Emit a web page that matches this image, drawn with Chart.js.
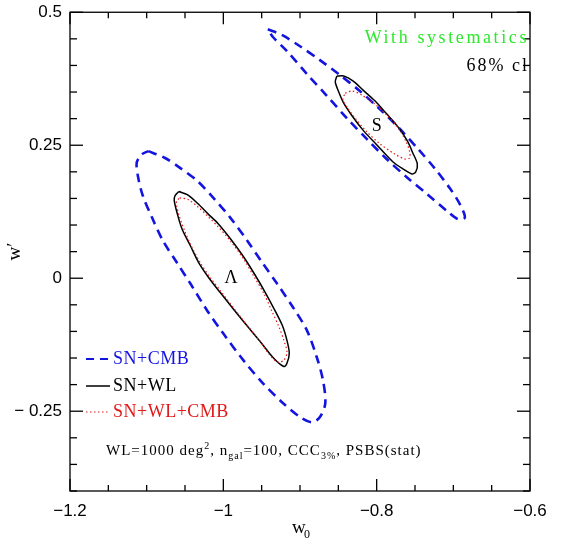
<!DOCTYPE html>
<html><head><meta charset="utf-8">
<script src="https://cdn.jsdelivr.net/npm/chart.js@4"></script>
<style>html,body{margin:0;padding:0;background:#fff}</style>
</head><body>
<canvas id="c" width="576" height="542"></canvas>
<script>
// ---- data (w0, w') ----
const xTickValues=[-1.2,-1,-0.8,-0.6];
const xTickLabels=['\u22121.2','\u22121','\u22120.8','\u22120.6'];
const yTickValues=[-0.25,0,0.25,0.5];
const yTickLabels=['\u2212 0.25','0','0.25','0.5'];
const seriesNames=['SN+CMB','SN+WL','SN+WL+CMB'];
const modelLabels=['\u039B','S'];
const modelCentres=[[-0.99,0.0],[-0.8,0.285]];

const lambdaSnCmb=[[-1.098,0.239],[-1.076,0.226],[-1.057,0.208],[-1.034,0.183],[-1.013,0.151],[-0.991,0.114],[-0.969,0.071],[-0.950,0.031],[-0.930,-0.010],[-0.909,-0.055],[-0.891,-0.098],[-0.878,-0.149],[-0.870,-0.192],[-0.867,-0.235],[-0.874,-0.261],[-0.884,-0.271],[-0.900,-0.261],[-0.922,-0.235],[-0.948,-0.198],[-0.974,-0.154],[-1.000,-0.104],[-1.021,-0.061],[-1.043,-0.010],[-1.060,0.028],[-1.079,0.071],[-1.093,0.114],[-1.105,0.155],[-1.111,0.189],[-1.113,0.217],[-1.107,0.232]];
const lambdaSnWl=[[-1.058,0.163],[-1.047,0.157],[-1.033,0.140],[-1.020,0.121],[-1.007,0.103],[-0.989,0.071],[-0.973,0.039],[-0.959,0.007],[-0.946,-0.025],[-0.934,-0.057],[-0.923,-0.089],[-0.917,-0.117],[-0.914,-0.141],[-0.917,-0.160],[-0.921,-0.166],[-0.934,-0.151],[-0.952,-0.119],[-0.978,-0.074],[-1.004,-0.027],[-1.019,0.001],[-1.032,0.029],[-1.043,0.061],[-1.054,0.093],[-1.060,0.121],[-1.064,0.146],[-1.063,0.155]];
const lambdaSnWlCmb=[[-1.057,0.151],[-1.046,0.148],[-1.033,0.134],[-1.020,0.116],[-1.007,0.097],[-0.989,0.067],[-0.973,0.035],[-0.960,0.003],[-0.947,-0.029],[-0.937,-0.061],[-0.927,-0.093],[-0.921,-0.117],[-0.917,-0.139],[-0.921,-0.154],[-0.929,-0.158],[-0.939,-0.145],[-0.953,-0.117],[-0.978,-0.072],[-1.003,-0.025],[-1.017,0.001],[-1.030,0.029],[-1.042,0.061],[-1.051,0.091],[-1.058,0.119],[-1.061,0.138],[-1.061,0.145]];
const sugraSnCmb=[[-0.942,0.468],[-0.923,0.457],[-0.900,0.436],[-0.874,0.410],[-0.848,0.382],[-0.822,0.352],[-0.796,0.318],[-0.770,0.281],[-0.746,0.243],[-0.724,0.206],[-0.704,0.168],[-0.691,0.138],[-0.685,0.114],[-0.694,0.111],[-0.708,0.126],[-0.734,0.158],[-0.760,0.189],[-0.787,0.224],[-0.813,0.262],[-0.839,0.301],[-0.865,0.343],[-0.891,0.384],[-0.917,0.427],[-0.935,0.453]];
const sugraSnWl=[[-0.852,0.380],[-0.843,0.380],[-0.831,0.371],[-0.818,0.354],[-0.802,0.333],[-0.787,0.309],[-0.772,0.284],[-0.760,0.258],[-0.753,0.236],[-0.747,0.215],[-0.749,0.200],[-0.754,0.196],[-0.764,0.204],[-0.779,0.219],[-0.800,0.251],[-0.817,0.277],[-0.831,0.303],[-0.843,0.329],[-0.850,0.352],[-0.854,0.369]];
const sugraSnWlCmb=[[-0.841,0.348],[-0.832,0.352],[-0.819,0.344],[-0.803,0.328],[-0.787,0.307],[-0.772,0.283],[-0.762,0.258],[-0.757,0.238],[-0.757,0.226],[-0.763,0.224],[-0.777,0.234],[-0.796,0.253],[-0.814,0.277],[-0.828,0.301],[-0.839,0.322],[-0.844,0.337]];

// ---- styles ----
const BLUE='#1414e0', RED='#e01818', GREEN='#2ee82e';
const styles=[
  {borderColor:BLUE,borderWidth:2.6,borderDash:[9,6],order:3},
  {borderColor:'#000',borderWidth:1.5,borderDash:[],order:2},
  {borderColor:RED,borderWidth:1.2,borderDash:[1.5,2.5],order:1}
];
function closed(arr){return arr.concat([arr[0]]).map(p=>({x:p[0],y:p[1]}));}
function ds(arr,si){return Object.assign({label:seriesNames[si],data:closed(arr),showLine:true,pointRadius:0,tension:0.3,fill:false},styles[si]);}

const datasets=[ds(lambdaSnCmb,0),ds(sugraSnCmb,0),ds(lambdaSnWl,1),ds(sugraSnWl,1),ds(lambdaSnWlCmb,2),ds(sugraSnWlCmb,2)];

const SERIF='"Liberation Serif","Times New Roman",serif';
const SANS='"Liberation Sans",Arial,sans-serif';

const decor={id:'decor',afterDraw(chart){
  const {ctx,chartArea:a,scales:{x,y}}=chart;
  ctx.save();
  ctx.strokeStyle='#000';ctx.lineWidth=1.3;ctx.setLineDash([]);
  ctx.strokeRect(a.left,a.top,a.right-a.left,a.bottom-a.top);
  function ln(x1,y1,x2,y2){ctx.beginPath();ctx.moveTo(x1,y1);ctx.lineTo(x2,y2);ctx.stroke();}
  for(let i=0;i<=12;i++){const v=x.min+i*0.05;const px=x.getPixelForValue(v);const L=(i%4===0)?12:6;ln(px,a.bottom,px,a.bottom-L);ln(px,a.top,px,a.top+L);}
  for(let i=0;i<=18;i++){const v=y.min+i*0.05;const r=v/0.25;const major=Math.abs(r-Math.round(r))<1e-6;const py=y.getPixelForValue(v);const L=major?13:7;ln(a.left,py,a.left+L,py);ln(a.right,py,a.right-L,py);}
  // model labels
  ctx.fillStyle='#000';ctx.font='18px '+SERIF;ctx.textAlign='center';ctx.textBaseline='middle';
  modelLabels.forEach((t,i)=>ctx.fillText(t,x.getPixelForValue(modelCentres[i][0]),y.getPixelForValue(modelCentres[i][1])));
  // axis titles
  ctx.font='19px '+SERIF;ctx.textAlign='left';ctx.textBaseline='alphabetic';
  const cx=(a.left+a.right)/2;
  ctx.fillText('w',cx-8,533);ctx.font='12px '+SERIF;ctx.fillText('0',cx+4,538);
  ctx.save();ctx.translate(20,(a.top+a.bottom)/2);ctx.rotate(-Math.PI/2);ctx.font='19px '+SERIF;ctx.textAlign='center';ctx.fillText('w\u2032',0,0);ctx.restore();
  // top-right notes
  ctx.textAlign='right';ctx.textBaseline='middle';
  ctx.letterSpacing='2.6px';ctx.font='18px '+SERIF;ctx.fillStyle=GREEN;ctx.fillText('With systematics',529,38);
  ctx.letterSpacing='2px';ctx.fillStyle='#000';ctx.fillText('68% cl',529,66);
  // legend
  const legY=[359,386,412];const cols=[BLUE,'#000',RED];
  ctx.letterSpacing='0.5px';
  for(let i=0;i<3;i++){
    ctx.strokeStyle=cols[i];ctx.lineWidth=styles[i].borderWidth*(i===0?0.8:1);ctx.setLineDash(i===0?[8,6]:styles[i].borderDash);
    ln(86,legY[i],110,legY[i]);
    ctx.setLineDash([]);ctx.fillStyle=cols[i];ctx.textAlign='left';ctx.font='18px '+SERIF;ctx.fillText(seriesNames[i],113,legY[i]);
  }
  // survey note
  ctx.fillStyle='#000';ctx.textAlign='left';ctx.textBaseline='alphabetic';ctx.letterSpacing='1px';
  let px=106;const base=455;
  const parts=[['WL=1000 deg',15,0],['2',10,-6],[', n',15,0],['gal',10,4],['=100, CCC',15,0],['3%',10,4],[', PSBS(stat)',15,0]];
  parts.forEach(p=>{ctx.font=p[1]+'px '+SERIF;ctx.fillText(p[0],px,base+p[2]);px+=ctx.measureText(p[0]).width;});
  ctx.restore();
}};

new Chart(document.getElementById('c'),{
  type:'scatter',
  data:{datasets},
  options:{
    responsive:false,animation:false,devicePixelRatio:1,
    layout:{padding:{top:11,right:46,left:0,bottom:0}},
    plugins:{legend:{display:false},tooltip:{enabled:false}},
    scales:{
      x:{type:'linear',min:-1.2,max:-0.6,
        afterBuildTicks:s=>{s.ticks=xTickValues.map(v=>({value:v}));},
        afterFit:s=>{s.height=51;},
        grid:{display:false,drawTicks:false},border:{display:false},
        ticks:{callback:v=>xTickLabels[xTickValues.findIndex(t=>Math.abs(t-v)<1e-9)],font:{family:SANS,size:17,lineHeight:1},color:'#000',padding:12,maxRotation:0,autoSkip:false}},
      y:{type:'linear',min:-0.4,max:0.5,
        afterBuildTicks:s=>{s.ticks=yTickValues.map(v=>({value:v}));},
        afterFit:s=>{s.width=70;},
        grid:{display:false,drawTicks:false},border:{display:false},
        ticks:{callback:v=>yTickLabels[yTickValues.findIndex(t=>Math.abs(t-v)<1e-9)],font:{family:SANS,size:17,lineHeight:0.5},color:'#000',padding:8,autoSkip:false}}
    }
  },
  plugins:[decor]
});
</script>
</body></html>
